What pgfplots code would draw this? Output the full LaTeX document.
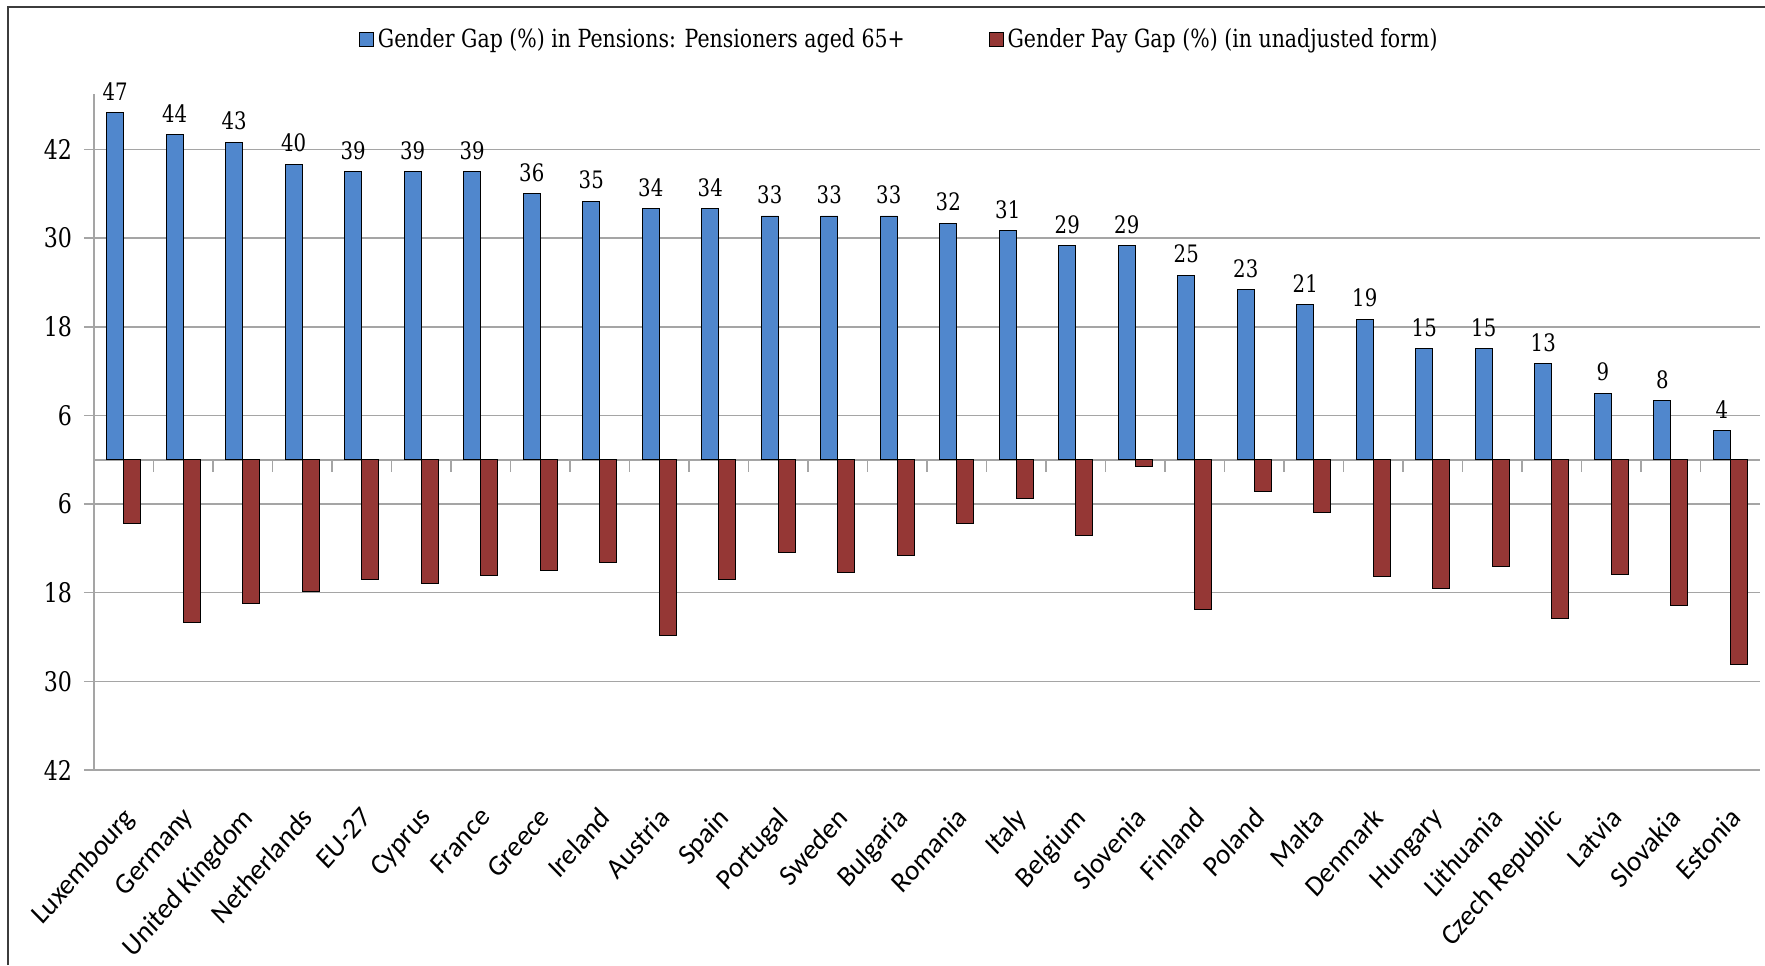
\documentclass[border=0pt]{standalone}
\usepackage{pgfplots}
\usepackage{pgfplotstable}
\pgfplotsset{compat=1.18}
\usepackage{fontspec}
\setmainfont{DejaVu Serif}[FakeStretch=0.82]
\newfontfamily\catfont{Carlito}
\definecolor{pblue}{RGB}{80,135,205}
\definecolor{pred}{RGB}{149,55,53}
\definecolor{gridgray}{RGB}{165,165,165}
\definecolor{framegray}{RGB}{60,60,60}

\pgfplotstableread{
idx blue red
0 47 -8.6
1 44 -22.0
2 43 -19.4
3 40 -17.8
4 39 -16.2
5 39 -16.8
6 39 -15.6
7 36 -15.0
8 35 -13.9
9 34 -23.8
10 34 -16.2
11 33 -12.6
12 33 -15.3
13 33 -12.9
14 32 -8.6
15 31 -5.2
16 29 -10.2
17 29 -0.9
18 25 -20.3
19 23 -4.3
20 21 -7.1
21 19 -15.8
22 15 -17.4
23 15 -14.5
24 13 -21.5
25 9 -15.5
26 8 -19.7
27 4 -27.7
}\data

\begin{document}
\begin{tikzpicture}
\begin{axis}[
  at={(47pt,0pt)}, anchor=south west,
  scale only axis, width=833pt, height=338pt,
  xmin=-0.5, xmax=27.5, ymin=-42, ymax=49.5,
  ybar=0pt, bar width=8.5pt,
  axis lines=left,
  axis line style={-, draw=gridgray, line width=0.8pt},
  xtick={0,...,27},
  xticklabels={Luxembourg,Germany,United Kingdom,Netherlands,EU-27,Cyprus,France,Greece,Ireland,Austria,Spain,Portugal,Sweden,Bulgaria,Romania,Italy,Belgium,Slovenia,Finland,Poland,Malta,Denmark,Hungary,Lithuania,Czech Republic,Latvia,Slovakia,Estonia},
  x tick style={draw=none},
  x tick label style={font=\catfont\fontsize{14}{14}\selectfont, anchor=north east, inner sep=0pt, xshift=-1pt, yshift=-12.5pt, rotate=49, xslant=0.08},
  ytick={-42,-30,-18,-6,6,18,30,42},
  yticklabels={42,30,18,6,6,18,30,42},
  y tick style={draw=gridgray, line width=0.8pt},
  tick align=outside, major tick length=5pt,
  ymajorgrids, grid style={draw=gridgray, line width=0.8pt},
  y tick label style={font=\fontsize{13.5}{13.5}\selectfont, xshift=-2.5pt},
  /pgf/number format/assume math mode=true,
  legend style={at={(axis description cs:0.484,1.081)}, anchor=center, draw=none, fill=none,
    legend columns=2, font=\fontsize{12.5}{12.5}\selectfont,
    /tikz/every even column/.append style={column sep=40pt}},
  clip=false,
]
\draw[gridgray, line width=0.8pt] (axis cs:-0.5,0) -- (axis cs:27.5,0);
\pgfplotsinvokeforeach{0,...,26}{
  \draw[gridgray, line width=0.8pt] (axis cs:#1+0.5,0) -- ([yshift=-6pt]axis cs:#1+0.5,0);
}
\addplot[fill=pblue, draw=black, line width=0.4pt,
  legend image code/.code={\draw[fill=pblue, draw=black, line width=0.4pt] (0pt,-3.5pt) rectangle (7pt,3.5pt);},
  nodes near coords,
  nodes near coords style={font=\fontsize{12}{12}\selectfont, black, yshift=2.5pt}]
  table[x=idx, y=blue] {\data};
\addlegendentry{Gender Gap (\%) in Pensions: Pensioners aged 65+}
\addplot[fill=pred, draw=black, line width=0.4pt,
  legend image code/.code={\draw[fill=pred, draw=black, line width=0.4pt] (0pt,-3.5pt) rectangle (7pt,3.5pt);}]
  table[x=idx, y=red] {\data};
\addlegendentry{Gender Pay Gap (\%) (in unadjusted form)}
\end{axis}
\draw[framegray, line width=1pt] (4pt,-97.5pt) -- (4pt,381.5pt) -- (882.5pt,381.5pt);
\pgfresetboundingbox
\path[use as bounding box] (0pt,-97.5pt) rectangle (882.5pt,385pt);
\end{tikzpicture}
\end{document}
